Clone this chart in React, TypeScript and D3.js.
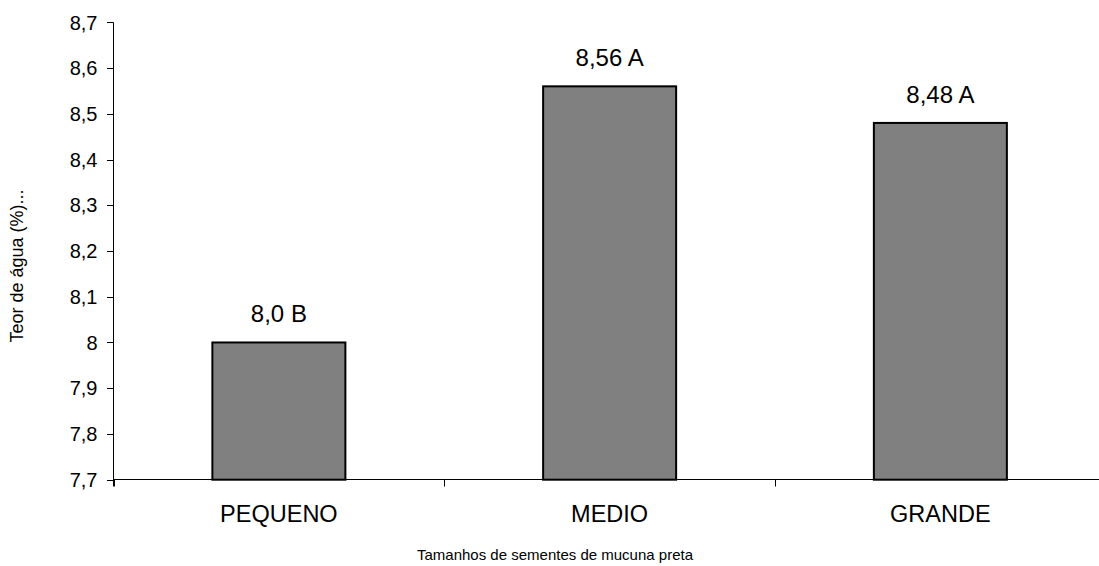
import React from "react";
import * as d3 from "d3";

const categories = ["PEQUENO", "MEDIO", "GRANDE"];
const values = [8.0, 8.56, 8.48];
const valueLabels = ["8,0 B", "8,56 A", "8,48 A"];
const yTicks = [7.7, 7.8, 7.9, 8.0, 8.1, 8.2, 8.3, 8.4, 8.5, 8.6, 8.7];
const yTitle = "Teor de água (%)...";
const xTitle = "Tamanhos de sementes de mucuna preta";

const W = 1099;
const H = 566;
const FONT = "'Liberation Sans', Arial, sans-serif";

export default function App() {
  const x = d3.scaleBand<string>().domain(categories).range([113.5, 1105.75]).paddingInner(0).paddingOuter(0);
  const y = d3.scaleLinear().domain([7.7, 8.7]).range([479.7, 22.3]);
  const barW = 133;
  const fmt = (v: number) => (Math.abs(v - Math.round(v)) < 1e-9 ? String(Math.round(v)) : v.toFixed(1).replace(".", ","));
  const boundaries = [...categories.map((c) => x(c)!), x.range()[1]];

  return (
    <svg
      width={W}
      height={H}
      style={{ position: "absolute", left: 0, top: 0, background: "#fff" }}
      fontFamily={FONT}
    >
      <rect width={W} height={H} fill="#fff" />
      {/* bars with their value labels */}
      {categories.map((c, i) => {
        const cx = x(c)! + x.bandwidth() / 2;
        return (
          <g key={c}>
            <rect
              x={cx - barW / 2}
              y={y(values[i])}
              width={barW}
              height={y(7.7) - y(values[i])}
              fill="#808080"
              stroke="#000"
              strokeWidth={2}
            />
            <text x={cx} y={y(values[i]) - 20} textAnchor="middle" fontSize={24} fill="#000">
              {valueLabels[i]}
            </text>
            <text x={cx} y={522} textAnchor="middle" fontSize={23.5} fill="#000">
              {c}
            </text>
          </g>
        );
      })}
      {/* y axis */}
      <line x1={113.5} x2={113.5} y1={y(8.7)} y2={486.5} stroke="#000" strokeWidth={1} />
      {yTicks.map((t) => (
        <g key={t}>
          <line x1={107} x2={113.5} y1={Math.round(y(t)) + 0.5} y2={Math.round(y(t)) + 0.5} stroke="#000" />
          <text x={97.5} y={y(t)} dy="0.36em" textAnchor="end" fontSize={20} fill="#000">
            {fmt(t)}
          </text>
        </g>
      ))}
      {/* x axis */}
      <line x1={113.5} x2={W} y1={479.5} y2={479.5} stroke="#000" strokeWidth={1} />
      {boundaries.map((b, i) => (
        <line key={i} x1={Math.round(b) + 0.5} x2={Math.round(b) + 0.5} y1={479.5} y2={486.5} stroke="#000" />
      ))}
      {/* axis titles */}
      <text x={555} y={560} textAnchor="middle" fontSize={15} fill="#000">
        {xTitle}
      </text>
      <text
        transform={`translate(23, 266) rotate(-90)`}
        textAnchor="middle"
        fontSize={18}
        fill="#000"
      >
        {yTitle}
      </text>
    </svg>
  );
}
